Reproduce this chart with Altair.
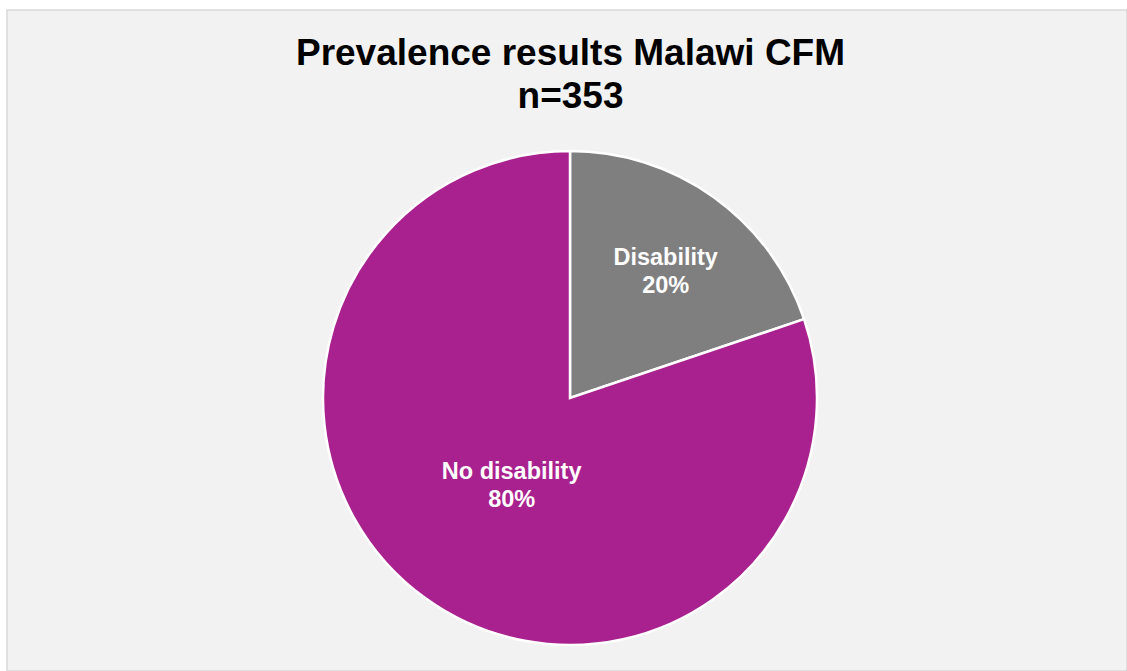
import altair as alt
import pandas as pd

# ---- data ----
categories = ["Disability", "No disability"]
counts = [70, 283]
order = [1, 2]
colors = ["#7f7f7f", "#a9218e"]
title_lines = ["Prevalence results Malawi CFM", "n=353"]

total = sum(counts)
df = pd.DataFrame({"category": categories, "count": counts, "order": order})
df["label"] = [f"{c}\n{round(n / total * 100)}%" for c, n in zip(categories, counts)]

FONT = "Liberation Sans"
CX, CY = 563, 388  # pie centre within the view

theta_scale = alt.Scale(domain=[0, total])

base = alt.Chart(df).transform_stack(
    stack="count", groupby=[], as_=["t0", "t1"], sort=[alt.SortField("order", order="ascending")]
).transform_calculate(mid="(datum.t0 + datum.t1) / 2")

arcs = base.mark_arc(radius=247, stroke="white", strokeWidth=2.5).encode(
    theta=alt.Theta("t0:Q", scale=theta_scale),
    theta2="t1:Q",
    color=alt.Color("category:N", scale=alt.Scale(domain=categories, range=colors), legend=None),
    x=alt.value(CX),
    y=alt.value(CY),
)

def label_layer(cat, r):
    return base.transform_filter(alt.datum.category == cat).mark_text(
        font=FONT, fontSize=23.5, fontWeight="bold", color="white",
        align="center", baseline="alphabetic", lineBreak="\n", lineHeight=28,
    ).encode(
        theta=alt.Theta("mid:Q", scale=theta_scale),
        radius=alt.value(r),
        x=alt.value(CX),
        y=alt.value(CY),
        text="label:N",
    )

lab1 = label_layer("Disability", 164)
lab2 = label_layer("No disability", 100)

title_df = pd.DataFrame({"t": title_lines, "i": [0, 1]})
t1 = alt.Chart(title_df).transform_filter(alt.datum.i == 0).mark_text(
    font=FONT, fontSize=37, fontWeight="bold", color="black", align="center", baseline="alphabetic"
).encode(text="t:N", x=alt.value(563.5), y=alt.value(55))
t2 = alt.Chart(title_df).transform_filter(alt.datum.i == 1).mark_text(
    font=FONT, fontSize=37, fontWeight="bold", color="black", align="center", baseline="alphabetic"
).encode(text="t:N", x=alt.value(563.5), y=alt.value(98))

chart = alt.layer(arcs, lab1, lab2, t1, t2).resolve_scale(theta="shared").properties(
    width=1120,
    height=661,
    padding={"left": 7, "top": 10, "right": 0, "bottom": 0},
    autosize=alt.AutoSizeParams(type="none"),
    background="white",
).configure_view(fill="#f2f2f2", stroke="#d9d9d9", strokeWidth=1.5)

chart.save("out.html", embed_options={"renderer": "svg", "actions": False})
